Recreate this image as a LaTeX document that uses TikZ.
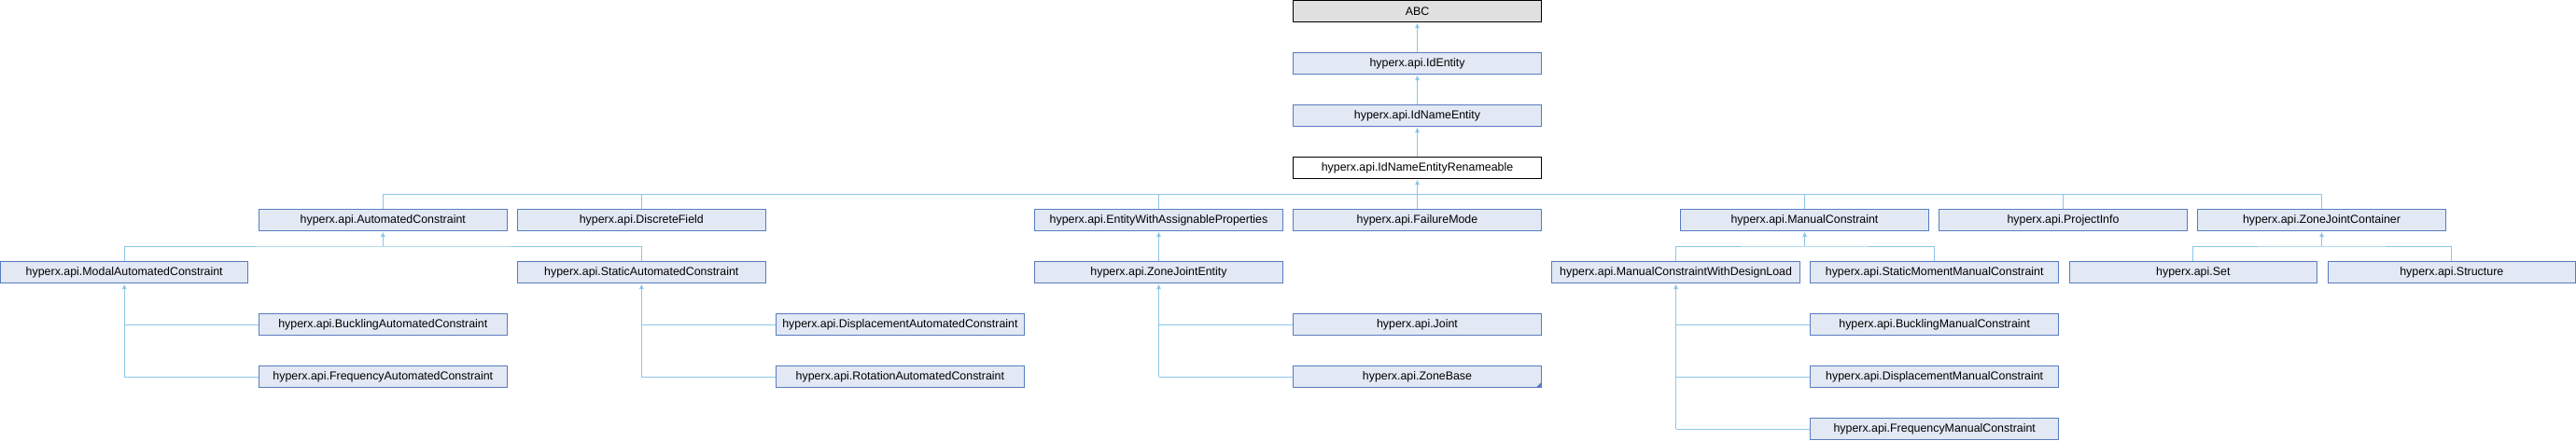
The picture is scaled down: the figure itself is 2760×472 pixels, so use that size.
\documentclass[tikz,border=0pt]{standalone}
\usepackage{fontspec}
\setmainfont{Liberation Sans}
\usetikzlibrary{arrows.meta}
\definecolor{boxfill}{RGB}{226,232,244}
\definecolor{boxdraw}{RGB}{88,124,192}
\definecolor{conncol}{RGB}{140,198,234}
\definecolor{abcfill}{RGB}{224,224,224}
\tikzset{
  cls/.style={draw=boxdraw, fill=boxfill, line width=1pt, minimum width=265.5pt,
    minimum height=22.2pt, inner sep=0pt, font=\fontsize{12.4}{14}\selectfont},
  rootcls/.style={cls, draw=black, fill=abcfill},
  curcls/.style={cls, draw=black, fill=white},
  conn/.style={draw=conncol, line width=1pt},
  inh/.style={conn, -{Triangle[length=5pt,width=4.5pt]}, shorten >=1.5pt},
}
\begin{document}
\begin{tikzpicture}[x=1pt,y=-1pt]
\useasboundingbox (0,0) rectangle (2760,472);
% row 0-3
\node[rootcls] (abc) at (1518.5,12) {ABC};
\node[cls] (identity) at (1518.5,68) {hyperx.api.IdEntity};
\node[cls] (idname) at (1518.5,124) {hyperx.api.IdNameEntity};
\node[curcls] (renam) at (1518.5,180) {hyperx.api.IdNameEntityRenameable};
% row 4
\node[cls] (autoc) at (410.3,236) {hyperx.api.AutomatedConstraint};
\node[cls] (discrete) at (687.3,236) {hyperx.api.DiscreteField};
\node[cls] (ewap) at (1241.5,236) {hyperx.api.EntityWithAssignableProperties};
\node[cls] (failure) at (1518.5,236) {hyperx.api.FailureMode};
\node[cls] (manual) at (1933.5,236) {hyperx.api.ManualConstraint};
\node[cls] (project) at (2210.5,236) {hyperx.api.ProjectInfo};
\node[cls] (zjc) at (2487.5,236) {hyperx.api.ZoneJointContainer};
% row 5
\node[cls] (modal) at (133.2,292) {hyperx.api.ModalAutomatedConstraint};
\node[cls] (static) at (687.3,292) {hyperx.api.StaticAutomatedConstraint};
\node[cls] (zje) at (1241.5,292) {hyperx.api.ZoneJointEntity};
\node[cls] (mcwdl) at (1795.6,292) {hyperx.api.ManualConstraintWithDesignLoad};
\node[cls] (smmc) at (2072.7,292) {hyperx.api.StaticMomentManualConstraint};
\node[cls] (set) at (2349.8,292) {hyperx.api.Set};
\node[cls] (structure) at (2626.8,292) {hyperx.api.Structure};
% row 6
\node[cls] (bac) at (410.3,348) {hyperx.api.BucklingAutomatedConstraint};
\node[cls] (dac) at (964.4,348) {hyperx.api.DisplacementAutomatedConstraint};
\node[cls] (joint) at (1518.5,348) {hyperx.api.Joint};
\node[cls] (bmc) at (2072.7,348) {hyperx.api.BucklingManualConstraint};
% row 7
\node[cls] (fac) at (410.3,404) {hyperx.api.FrequencyAutomatedConstraint};
\node[cls] (rac) at (964.4,404) {hyperx.api.RotationAutomatedConstraint};
\node[cls] (zonebase) at (1518.5,404) {hyperx.api.ZoneBase};
\node[cls] (dmc) at (2072.7,404) {hyperx.api.DisplacementManualConstraint};
% row 8
\node[cls] (fmc) at (2072.7,460) {hyperx.api.FrequencyManualConstraint};
% fold mark on ZoneBase
\fill[boxdraw] (zonebase.south east) -- ++(-6,0) -- ++(6,-6) -- cycle;
% top chain
\draw[inh] (identity.north) -- (abc.south);
\draw[inh] (idname.north) -- (identity.south);
\draw[inh] (renam.north) -- (idname.south);
% row 4 bus
\coordinate (b4) at (1518.5,208);
\draw[conn] (autoc.north) -- (autoc.north |- b4) -- (zjc.north |- b4) -- (zjc.north);
\foreach \n in {discrete,ewap,manual,project}{\draw[conn] (\n.north) -- (\n.north |- b4);}
\draw[inh] (failure.north) -- (renam.south);
% row 5 buses
\coordinate (b5a) at (410.3,264);
\draw[conn] (modal.north) |- (b5a) -| (static.north);
\draw[inh] (b5a) -- (autoc.south);
\draw[inh] (zje.north) -- (ewap.south);
\coordinate (b5b) at (1933.5,264);
\draw[conn] (mcwdl.north) |- (b5b) -| (smmc.north);
\draw[inh] (b5b) -- (manual.south);
\coordinate (b5c) at (2487.5,264);
\draw[conn] (set.north) |- (b5c) -| (structure.north);
\draw[inh] (b5c) -- (zjc.south);
% trunks
\draw[inh] (fac.west -| modal.south) -- (modal.south);
\draw[conn] (bac.west) -- (bac.west -| modal.south);
\draw[conn] (fac.west) -- (fac.west -| modal.south);
\draw[inh] (rac.west -| static.south) -- (static.south);
\draw[conn] (dac.west) -- (dac.west -| static.south);
\draw[conn] (rac.west) -- (rac.west -| static.south);
\draw[inh] (zonebase.west -| zje.south) -- (zje.south);
\draw[conn] (joint.west) -- (joint.west -| zje.south);
\draw[conn] (zonebase.west) -- (zonebase.west -| zje.south);
\draw[inh] (fmc.west -| mcwdl.south) -- (mcwdl.south);
\draw[conn] (bmc.west) -- (bmc.west -| mcwdl.south);
\draw[conn] (dmc.west) -- (dmc.west -| mcwdl.south);
\draw[conn] (fmc.west) -- (fmc.west -| mcwdl.south);
\end{tikzpicture}
\end{document}
